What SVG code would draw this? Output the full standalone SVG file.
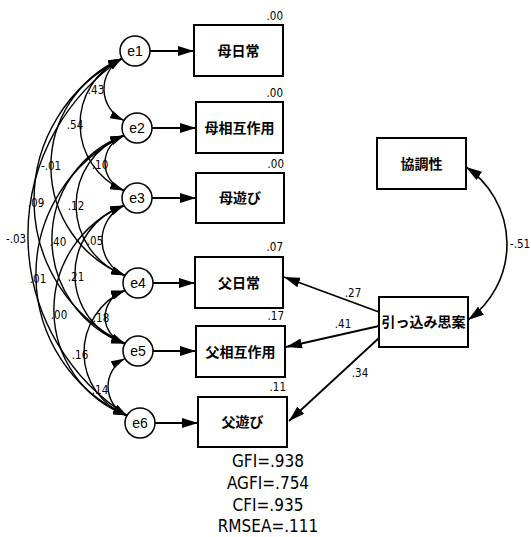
<svg xmlns="http://www.w3.org/2000/svg" width="531" height="537" viewBox="0 0 531 537">
<style>
.bg{fill:#fff}
.box{fill:#fff;stroke:#000;stroke-width:2}
.err{fill:#fff;stroke:#000;stroke-width:1.5}
.jp{font-family:"Noto Sans CJK JP","Noto Sans CJK SC",sans-serif;font-size:14px;font-weight:700;text-anchor:middle;fill:#000}
.el{font-family:"Liberation Sans",Arial,sans-serif;font-size:14px;text-anchor:middle;fill:#000}
.num{font-family:"Liberation Sans Narrow","Arial Narrow","DejaVu Sans Condensed","Liberation Sans",sans-serif;font-size:11.5px;fill:#000}
.r2{text-anchor:end}
.mid{text-anchor:middle}
.fit{font-family:"Liberation Sans Narrow","Arial Narrow","DejaVu Sans Condensed","Liberation Sans",sans-serif;font-size:17px;text-anchor:middle;fill:#000}
.arc{fill:none;stroke:#000;stroke-width:1.4;marker-start:url(#ah);marker-end:url(#ah)}
.line{fill:none;stroke:#000;stroke-width:1.8;marker-end:url(#ah2)}
.dbl{fill:none;stroke:#000;stroke-width:1.6;marker-start:url(#ah2);marker-end:url(#ah2)}
</style>
<defs>
<marker id="ah" markerUnits="userSpaceOnUse" markerWidth="14" markerHeight="8" refX="14" refY="4" orient="auto-start-reverse">
<path d="M0,0 L14,4 L0,8 z" fill="#000"/>
</marker>
<marker id="ah2" markerUnits="userSpaceOnUse" markerWidth="16" markerHeight="10" refX="16" refY="5" orient="auto-start-reverse">
<path d="M0,0 L16,5 L0,10 z" fill="#000"/>
</marker>
</defs>
<rect class="bg" x="0" y="0" width="531" height="537"/>

<g id="connectors">
<path class="arc" d="M122,58.5 A34.8,34.8 0 0 0 124,120.5"/>
<path class="arc" d="M124,135.5 A29.4,29.4 0 0 0 124,190.5"/>
<path class="arc" d="M124,205.5 A38.5,38.5 0 0 0 125,275.5"/>
<path class="arc" d="M125,290.5 A27.6,27.6 0 0 0 125,343.5"/>
<path class="arc" d="M125,358.5 A31.6,31.6 0 0 0 127,415.5"/>
<path class="arc" d="M122,58.5 A72.2,72.2 0 0 0 124,190.5"/>
<path class="arc" d="M124,135.5 A74.8,74.8 0 0 0 125,275.5"/>
<path class="arc" d="M124,205.5 A72.8,72.8 0 0 0 125,343.5"/>
<path class="arc" d="M125,290.5 A67.5,67.5 0 0 0 127,415.5"/>
<path class="arc" d="M122,58.5 A117.4,117.4 0 0 0 125,275.5"/>
<path class="arc" d="M124,135.5 A110.8,110.8 0 0 0 125,343.5"/>
<path class="arc" d="M124,205.5 A112.8,112.8 0 0 0 127,415.5"/>
<path class="arc" d="M122,58.5 A158.2,158.2 0 0 0 125,343.5"/>
<path class="arc" d="M124,135.5 A154.2,154.2 0 0 0 127,415.5"/>
<path class="arc" d="M122,58.5 A213.3,213.3 0 0 0 127,415.5"/>
<line class="line" x1="150" y1="51" x2="194" y2="51"/>
<line class="line" x1="152" y1="128" x2="196" y2="128"/>
<line class="line" x1="152" y1="198" x2="196" y2="198"/>
<line class="line" x1="153" y1="283" x2="195" y2="283"/>
<line class="line" x1="153" y1="351" x2="196" y2="351"/>
<line class="line" x1="155" y1="423" x2="198" y2="423"/>
<line class="line" x1="379" y1="312" x2="284" y2="277"/>
<line class="line" x1="379" y1="326" x2="286" y2="347"/>
<line class="line" x1="379" y1="338" x2="289" y2="421"/>
<path class="dbl" d="M466,167 A93.2,93.2 0 0 1 468,320"/>
</g>

<g id="labels-cov" class="num">
<text class="mid" x="96" y="94">.43</text>
<text class="mid" x="75" y="129">.54</text>
<text class="mid" x="51" y="170">-.01</text>
<text class="mid" x="36" y="207">.09</text>
<text class="mid" x="16" y="243">-.03</text>
<text class="mid" x="100" y="169">.10</text>
<text class="mid" x="76" y="210">.12</text>
<text class="mid" x="58" y="246">.40</text>
<text class="mid" x="38" y="283">.01</text>
<text class="mid" x="95" y="245">.05</text>
<text class="mid" x="76" y="281">.21</text>
<text class="mid" x="59" y="319">.00</text>
<text class="mid" x="101" y="322">.18</text>
<text class="mid" x="80" y="359">.16</text>
<text class="mid" x="100" y="394">.14</text>
<text class="mid" x="353" y="297">.27</text>
<text class="mid" x="343" y="328">.41</text>
<text class="mid" x="360" y="377">.34</text>
<text x="510" y="248">-.51</text>
</g>

<g id="e1"><circle class="err" cx="135" cy="51" r="15"/><text class="el" x="135" y="56">e1</text></g>
<g id="e2"><circle class="err" cx="137" cy="128" r="15"/><text class="el" x="137" y="133">e2</text></g>
<g id="e3"><circle class="err" cx="137" cy="198" r="15"/><text class="el" x="137" y="203">e3</text></g>
<g id="e4"><circle class="err" cx="138" cy="283" r="15"/><text class="el" x="138" y="288">e4</text></g>
<g id="e5"><circle class="err" cx="138" cy="351" r="15"/><text class="el" x="138" y="356">e5</text></g>
<g id="e6"><circle class="err" cx="140" cy="423" r="15"/><text class="el" x="140" y="428">e6</text></g>

<g id="haha-nichijo"><rect class="box" x="194" y="25" width="89" height="51"/><text class="jp" x="238.5" y="56">母日常</text><text class="num r2" x="283" y="20">.00</text></g>
<g id="haha-sogosayo"><rect class="box" x="196" y="102" width="87" height="51"/><text class="jp" x="239.5" y="133">母相互作用</text><text class="num r2" x="283" y="97">.00</text></g>
<g id="haha-asobi"><rect class="box" x="196" y="173" width="88" height="50"/><text class="jp" x="240" y="203">母遊び</text><text class="num r2" x="284" y="168">.00</text></g>
<g id="chichi-nichijo"><rect class="box" x="195" y="257" width="88" height="51"/><text class="jp" x="239" y="288">父日常</text><text class="num r2" x="283" y="251">.07</text></g>
<g id="chichi-sogosayo"><rect class="box" x="196" y="326" width="89" height="51"/><text class="jp" x="240.5" y="357">父相互作用</text><text class="num r2" x="284" y="320">.17</text></g>
<g id="chichi-asobi"><rect class="box" x="198" y="397" width="89" height="50"/><text class="jp" x="242.5" y="427">父遊び</text><text class="num r2" x="286" y="391">.11</text></g>
<g id="kyochosei"><rect class="box" x="377" y="138" width="89" height="51"/><text class="jp" x="421.5" y="169">協調性</text></g>
<g id="hikkomijian"><rect class="box" x="379" y="297" width="89" height="50"/><text class="jp" x="423.5" y="327">引っ込み思案</text></g>

<g id="fit">
<text class="fit" x="268" y="467">GFI=.938</text>
<text class="fit" x="268" y="489">AGFI=.754</text>
<text class="fit" x="268" y="511">CFI=.935</text>
<text class="fit" x="268" y="532">RMSEA=.111</text>
</g>
</svg>
